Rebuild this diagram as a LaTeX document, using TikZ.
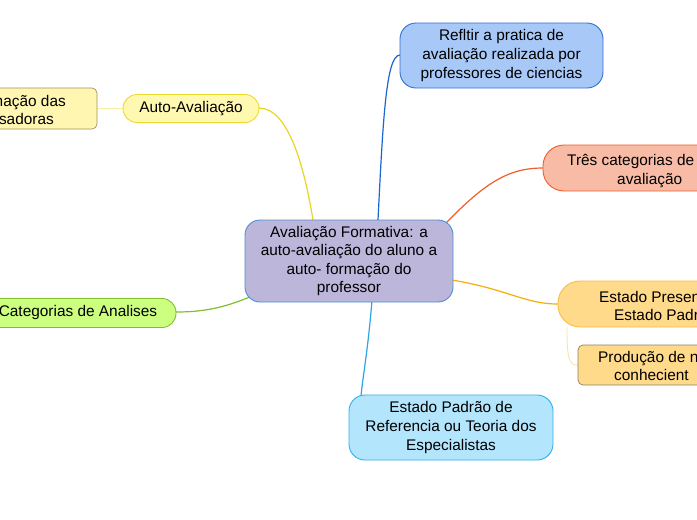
\documentclass[tikz,border=0pt]{standalone}
\usepackage{fontspec}
\setmainfont{Liberation Sans}
\definecolor{ctrfill}{HTML}{BDB6DB}
\definecolor{ctrline}{HTML}{4A8FD2}
\definecolor{topfill}{HTML}{A8C9F8}
\definecolor{topline}{HTML}{2E70D6}
\definecolor{topconn}{HTML}{1A66CC}
\definecolor{salfill}{HTML}{F8BBA6}
\definecolor{salline}{HTML}{F05E2C}
\definecolor{estfill}{HTML}{FFDA8A}
\definecolor{estline}{HTML}{F8C040}
\definecolor{estconn}{HTML}{F5AE0A}
\definecolor{prodline}{HTML}{8F8260}
\definecolor{prodconn}{HTML}{F8E2A8}
\definecolor{botfill}{HTML}{B3E5FC}
\definecolor{botline}{HTML}{2FB2F0}
\definecolor{botconn}{HTML}{2AA6E6}
\definecolor{catfill}{HTML}{CCFF80}
\definecolor{catline}{HTML}{82BE2E}
\definecolor{autofill}{HTML}{FFF8B0}
\definecolor{autoline}{HTML}{EEDA2E}
\definecolor{autoconn}{HTML}{E8D624}
\definecolor{lbfill}{HTML}{FFF6B2}
\definecolor{lbline}{HTML}{9E9462}
\definecolor{lbconn}{HTML}{F6EEA0}
\tikzset{
  x=1pt, y=-1pt,
  txt/.style={font=\fontsize{15.4}{18.6}\selectfont, text=black},
  boxnode/.style={txt, draw, line width=0.9pt, align=center, inner sep=0pt},
  conn/.style={line width=1.2pt},
  thinconn/.style={line width=0.8pt}
}
\begin{document}
\begin{tikzpicture}
\useasboundingbox (0,0) rectangle (697,520);
\clip (0,0) rectangle (697,520);
\fill[white] (0,0) rectangle (697,520);

% connector attachment points
\coordinate (cy) at (313,220);
\coordinate (cb) at (378,220);
\coordinate (cr) at (446,223);
\coordinate (co) at (452,280);
\coordinate (cl) at (372,300);
\coordinate (cg) at (252,296);
\coordinate (es) at (567,327);
\coordinate (bt) at (361,396);

% connectors (drawn first)
\draw[conn, autoconn] (cy) .. controls (304,165) and (288,108) .. (259,108);
\draw[conn, topconn] (cb) .. controls (383,120) and (386,55) .. (400,55);
\draw[conn, salline] (cr) .. controls (485,183) and (508,168) .. (543,168);
\draw[conn, estconn] (co) .. controls (510,290) and (525,304) .. (558,304);
\draw[conn, botconn] (cl) .. controls (368,350) and (363,375) .. (bt);
\draw[conn, catline] (cg) .. controls (222,309) and (200,312) .. (176,312);
\draw[thinconn, lbconn] (123,108) -- (97,108);
\draw[thinconn, prodconn] (es) .. controls (567,360) and (569,365) .. (578,365);

% center
\node[boxnode, fill=ctrfill, draw=ctrline, rounded corners=15pt,
      minimum width=208pt, minimum height=82pt] (ctr) at (349,261)
  {Avaliação Formativa: a\\auto-avaliação do aluno a\\auto- formação do\\professor};

% top right
\node[boxnode, fill=topfill, draw=topline, rounded corners=16pt,
      minimum width=203pt, minimum height=65pt] (top) at (501.5,55.5)
  {Refltir a pratica de\\avaliação realizada por\\professores de ciencias};

% salmon (cut off at right)
\node[boxnode, fill=salfill, draw=salline, rounded corners=21pt,
      minimum width=214pt, minimum height=46pt] (sal) at (650,168) {};
\node[txt, anchor=base west, inner sep=0pt] (sal1) at (567,165) {Três categorias de};
\node[txt, anchor=base west, inner sep=0pt] (sal2) at (617,184) {avaliação};

% estado (cut off at right)
\node[boxnode, fill=estfill, draw=estline, rounded corners=22pt,
      minimum width=214pt, minimum height=46pt] (est) at (665,304) {};
\node[txt, anchor=base west, inner sep=0pt] (est1) at (599,302) {Estado Presen};
\node[txt, anchor=base west, inner sep=0pt] (est2) at (614,320) {Estado Padr};

% produção (cut off at right)
\node[boxnode, fill=estfill, draw=prodline, line width=0.7pt, rounded corners=5pt,
      minimum width=214pt, minimum height=40pt] (prod) at (685,365) {};
\node[txt, anchor=base west, inner sep=0pt] (prod1) at (598,362) {Produção de n};
\node[txt, anchor=base west, inner sep=0pt] (prod2) at (614,380) {conhecient};

% bottom
\node[boxnode, fill=botfill, draw=botline, rounded corners=16pt,
      minimum width=204pt, minimum height=65pt] (bot) at (451,427.5)
  {Estado Padrão de\\Referencia ou Teoria dos\\Especialistas};

% green (cut off at left)
\node[boxnode, fill=catfill, draw=catline, rounded corners=14pt,
      minimum width=196pt, minimum height=29pt] (cat) at (78,313)
  {Categorias de Analises};

% auto-avaliação
\node[boxnode, fill=autofill, draw=autoline, rounded corners=14pt,
      minimum width=136pt, minimum height=28pt] (auto) at (191,108.5)
  {Auto-Avaliação};

% left box (cut off at left)
\node[boxnode, fill=lbfill, draw=lbline, line width=0.7pt, rounded corners=5pt,
      minimum width=160pt, minimum height=41pt] (lb) at (17,108.5) {};
\node[txt, anchor=base east, inner sep=0pt] (lb1) at (66,106) {mação das};
\node[txt, anchor=base east, inner sep=0pt] (lb2) at (54,124) {sadoras};
\end{tikzpicture}
\end{document}
